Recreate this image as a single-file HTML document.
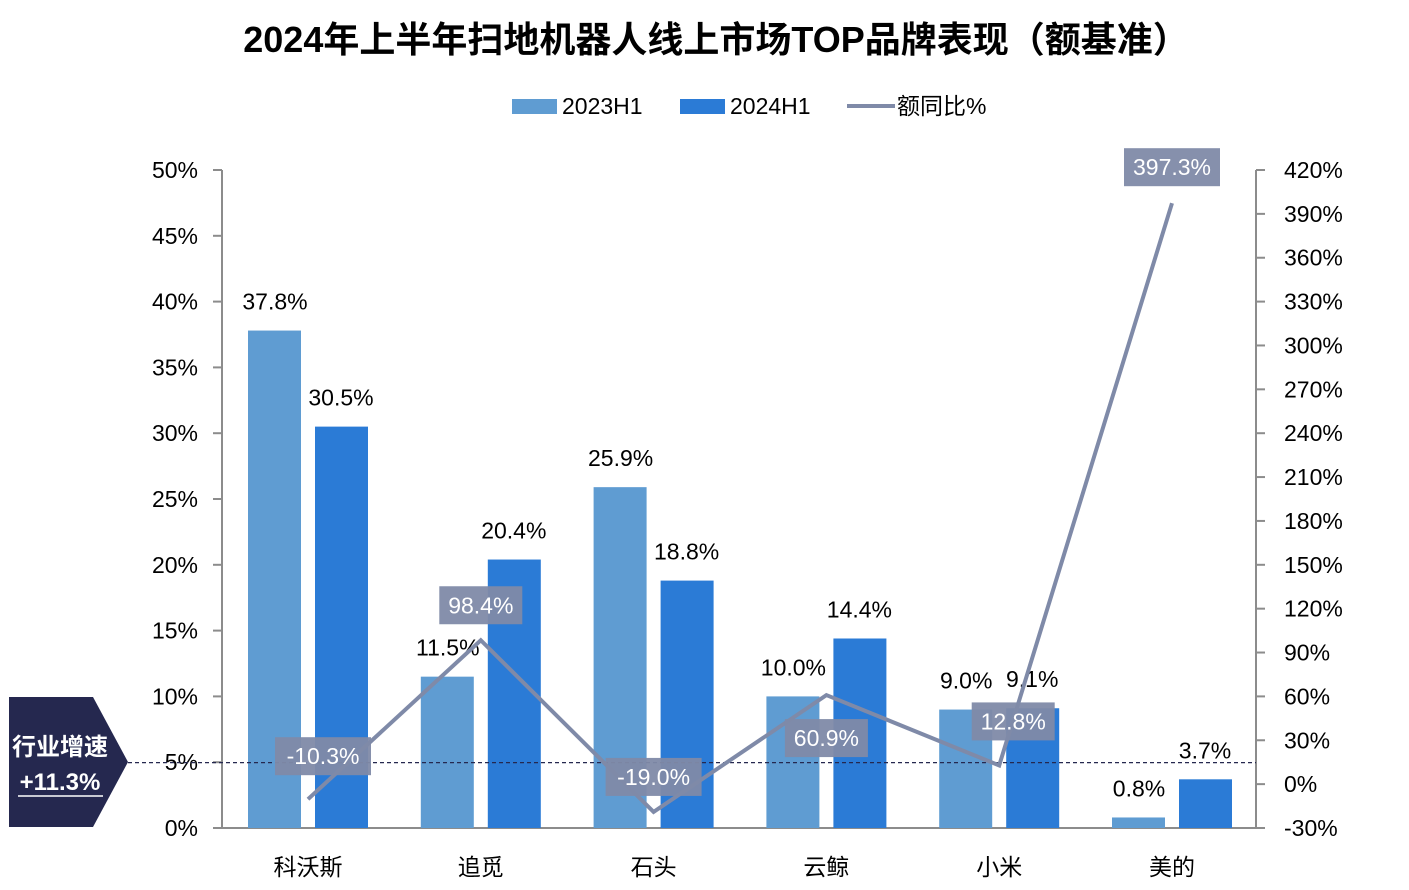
<!DOCTYPE html>
<html><head><meta charset="utf-8"><style>
body{margin:0;background:#fff;width:1409px;height:885px;overflow:hidden;font-family:"Liberation Sans","Noto Sans CJK SC",sans-serif}
</style></head><body>
<svg id="c" width="1409" height="885" xmlns="http://www.w3.org/2000/svg" font-family="Liberation Sans, Noto Sans CJK SC, sans-serif">
<text x="716" y="52" text-anchor="middle" font-size="36" font-weight="bold" fill="#000">2024年上半年扫地机器人线上市场TOP品牌表现（额基准）</text>
<g>
<rect x="512" y="99" width="45" height="15" fill="#5f9cd2"/>
<text x="562" y="114" font-size="23">2023H1</text>
<rect x="680" y="99" width="45" height="15" fill="#2b7bd6"/>
<text x="730" y="114" font-size="23">2024H1</text>
<line x1="847" y1="106" x2="895" y2="106" stroke="#7f8aa8" stroke-width="4"/>
<text x="897" y="114" font-size="23">额同比%</text>
</g>
<g id="axes"></g><g id="marks"></g>
<g>
<polygon points="9,697 93,697 128,762 93,827 9,827" fill="#25284f"/>
<text x="60" y="755" text-anchor="middle" font-size="24" font-weight="bold" fill="#fff">行业增速</text>
<text x="60" y="790" text-anchor="middle" font-size="24" font-weight="bold" fill="#fff">+11.3%</text>
<line x1="18" y1="796" x2="103" y2="796" stroke="#fff" stroke-width="1.5"/>
</g>
</svg>
<script>
const categories=["科沃斯","追觅","石头","云鲸","小米","美的"];
const share2023=[37.8,11.5,25.9,10.0,9.0,0.8];
const share2024=[30.5,20.4,18.8,14.4,9.1,3.7];
const yoy=[-10.3,98.4,-19.0,60.9,12.8,397.3];
const industryGrowth=11.3;
const leftTicks=[0,5,10,15,20,25,30,35,40,45,50];
const rightTicks=[-30,0,30,60,90,120,150,180,210,240,270,300,330,360,390,420];
const labelDy=[-43,-35,-35,43,-44,-36];

const NS="http://www.w3.org/2000/svg";
const X0=222,X1=1256,Y0=828,Y1=170;
const yL=v=>Y0-(v-0)/(50-0)*(Y0-Y1);
const yR=v=>Y0-(v+30)/(420+30)*(Y0-Y1);
const xC=i=>308+i*172.8;
function el(t,a,p){const e=document.createElementNS(NS,t);for(const k in a)e.setAttribute(k,a[k]);p.appendChild(e);return e;}
const ax=document.getElementById('axes'),mk=document.getElementById('marks');
let e;
e=el('line',{x1:X0,y1:Y1,x2:X0,y2:Y0,stroke:'#8c8c8c','stroke-width':2},ax);


e=el('line',{x1:X1,y1:Y1,x2:X1,y2:Y0,stroke:'#8c8c8c','stroke-width':2},ax);


e=el('line',{x1:X0,y1:Y0,x2:X1,y2:Y0,stroke:'#8c8c8c','stroke-width':2},ax);


leftTicks.forEach(v=>{const y=yL(v);
el('line',{x1:X0-9,y1:y,x2:X0,y2:y,stroke:'#8c8c8c','stroke-width':2},ax);
e=el('text',{x:X0-24,y:y+8,'text-anchor':'end','font-size':23},ax);e.textContent=v+'%';

});
rightTicks.forEach(v=>{const y=yR(v);
el('line',{x1:X1,y1:y,x2:X1+9,y2:y,stroke:'#8c8c8c','stroke-width':2},ax);
e=el('text',{x:X1+28,y:y+8,'font-size':23},ax);e.textContent=v+'%';

});
categories.forEach((c,i)=>{
e=el('text',{x:xC(i),y:875,'text-anchor':'middle','font-size':23},ax);e.textContent=c;


const a=share2023[i],b=share2024[i];
e=el('rect',{x:xC(i)-60,y:yL(a),width:53,height:Y0-yL(a),fill:'#5f9cd2'},mk);


e=el('rect',{x:xC(i)+7,y:yL(b),width:53,height:Y0-yL(b),fill:'#2b7bd6'},mk);


e=el('text',{x:xC(i)-33,y:yL(a)-21,'text-anchor':'middle','font-size':23},mk);e.textContent=a.toFixed(1)+'%';


e=el('text',{x:xC(i)+33,y:yL(b)-21,'text-anchor':'middle','font-size':23},mk);e.textContent=b.toFixed(1)+'%';


});
const iy=yR(industryGrowth)-5;
e=el('line',{x1:128,y1:iy,x2:X1,y2:iy,stroke:'#25284f','stroke-width':1.2,'stroke-dasharray':'4,3'},mk);


e=el('polyline',{points:yoy.map((v,i)=>xC(i)+','+yR(v)).join(' '),fill:'none',stroke:'#7f8aa8','stroke-width':4},mk);


yoy.forEach((v,i)=>{const cx=xC(i)+(i==0?15:(i==4?14:0)),cy=yR(v)+labelDy[i];
const t=v.toFixed(1)+'%';const w=t.length*13+18;
e=el('rect',{x:cx-w/2,y:cy-19,width:w,height:38,fill:'#7f8aa8','fill-opacity':0.95},mk);


e=el('text',{x:cx,y:cy+8,'text-anchor':'middle','font-size':23,fill:'#fff'},mk);e.textContent=t;

});
</script>
</body></html>
